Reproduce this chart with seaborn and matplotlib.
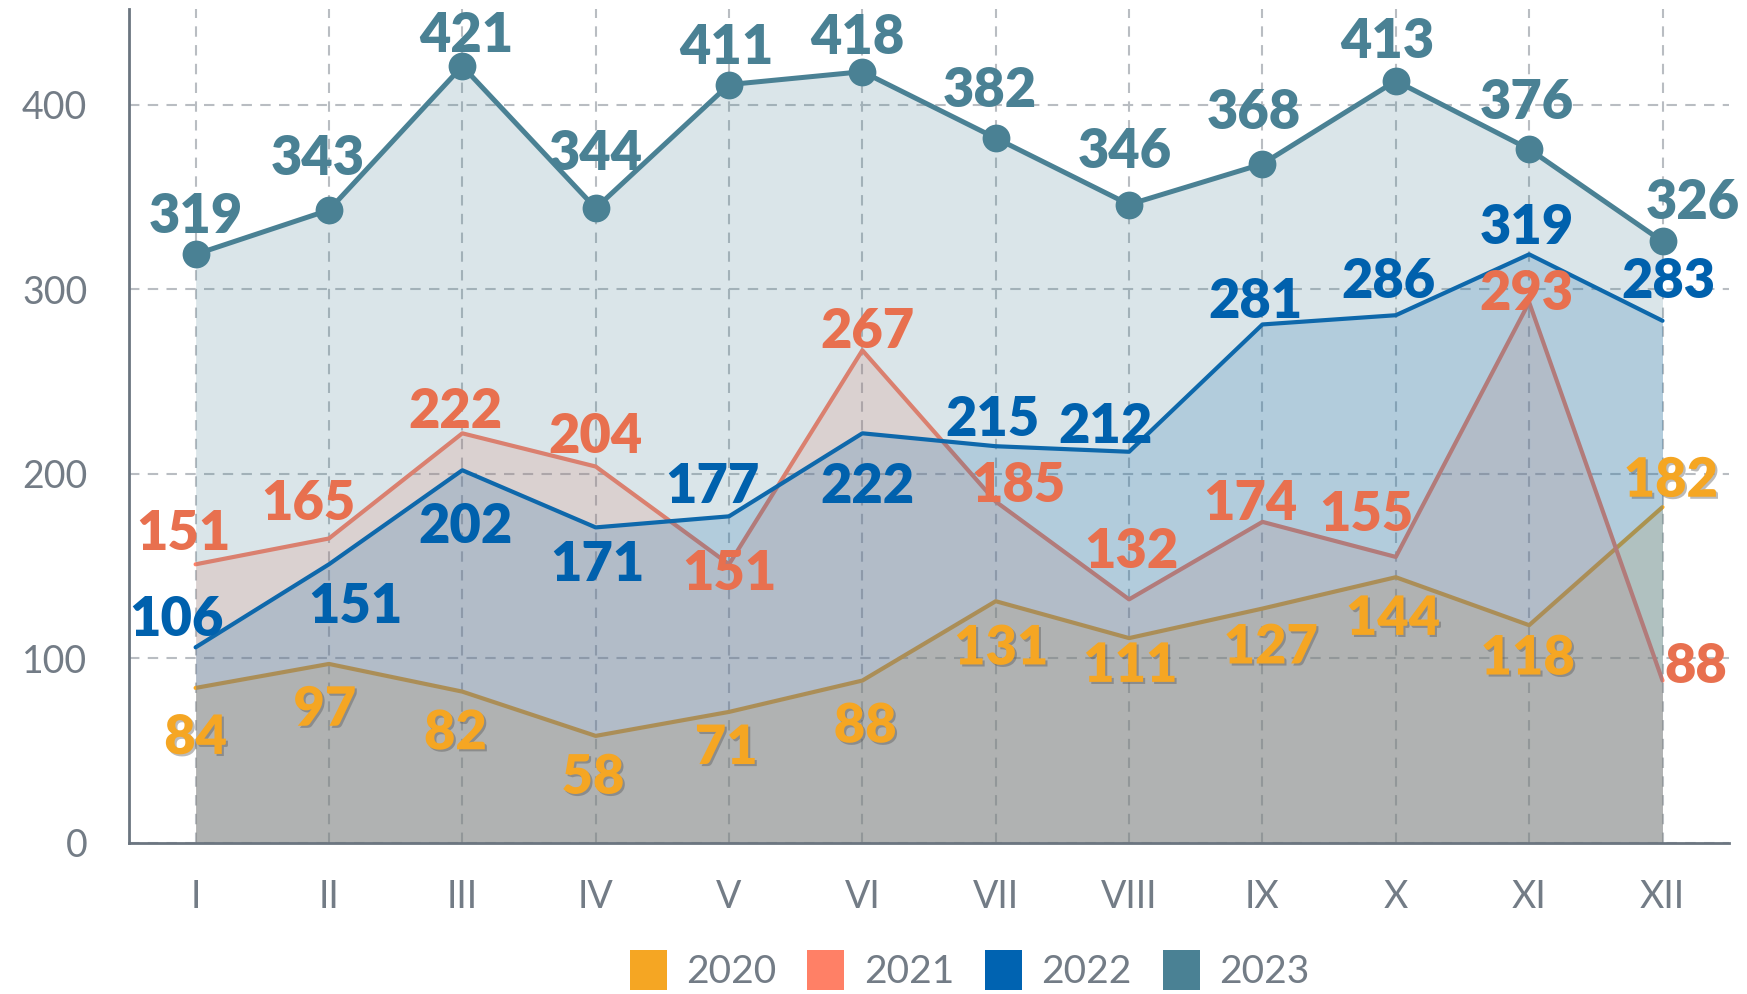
import matplotlib
matplotlib.use("Agg")
import matplotlib.pyplot as plt
import matplotlib.patheffects as pe
from matplotlib.patches import Patch
import pandas as pd
import seaborn as sns

# Data
months = ["I", "II", "III", "IV", "V", "VI", "VII", "VIII", "IX", "X", "XI", "XII"]
v2020 = [84, 97, 82, 58, 71, 88, 131, 111, 127, 144, 118, 182]
v2021 = [151, 165, 222, 204, 151, 267, 185, 132, 174, 155, 293, 88]
v2022 = [106, 151, 202, 171, 177, 222, 215, 212, 281, 286, 319, 283]
v2023 = [319, 343, 421, 344, 411, 418, 382, 346, 368, 413, 376, 326]
years = ["2020", "2021", "2022", "2023"]

colors = {"2020": "#f5a623", "2021": "#ff8066", "2022": "#0063b1", "2023": "#4a8194"}
label_colors = {"2020": "#f5a623", "2021": "#e8704f", "2022": "#0061ad", "2023": "#4a8194"}

# label offsets in points (dx, dy) - layout only
label_dx = {
    "2023": [0, -8, 3, 0, -2, -4, -4, -3, -6, -6, -2, 22],
    "2022": [-14, 19, 2, 1, -12, 4, -2, -17, -5, -5, -2, 4],
    "2021": [-9, -15, -5, 0, 0, 4, 16, 2, -9, -21, -2, 24],
    "2020": [0, -3, -5, -2, -2, 2, 4, 1, 6, -2, -1, 6],
}
label_dy = {
    "2023": [27, 37, 22, 39, 26, 24, 34, 38, 37, 28, 33, 28],
    "2022": [20, -31, -41, -27, 21, -39, 19, 18, 16, 24, 19, 28],
    "2021": [22, 25, 15, 21, -7, 13, 11, 34, 13, 30, 6, 10],
    "2020": [-36, -33, -30, -30, -26, -33, -34, -20, -28, -30, -24, 19],
}

df = pd.DataFrame({"month": months, "2020": v2020, "2021": v2021,
                   "2022": v2022, "2023": v2023})
df["x"] = range(len(months))
long = df.melt(id_vars=["month", "x"], value_vars=years, var_name="year", value_name="value")

sns.set_theme(style="white")
plt.rcParams["font.family"] = ["Lato", "DejaVu Sans"]

fig = plt.figure(figsize=(17.47, 9.94), dpi=100)
ax = fig.add_axes([0.0738, 0.152, 0.916, 0.839])

ax.set_axisbelow(True)
ax.grid(True, linestyle=(0, (5, 4)), color="#b9bdc2", linewidth=1.5)

# each series: fill + line, later series drawn over earlier ones
for i, yr in enumerate(years):
    sub = long[long["year"] == yr]
    ax.fill_between(sub["x"], 0, sub["value"], color=colors[yr], alpha=0.2,
                    linewidth=0, zorder=2 + i)
    sns.lineplot(data=sub, x="x", y="value", ax=ax, color=colors[yr],
                 linewidth=3.6 if yr == "2023" else 3.0, zorder=2.5 + i,
                 marker="o" if yr == "2023" else None,
                 markersize=20, markeredgewidth=0, legend=False)

# data labels
shadow = [pe.withSimplePatchShadow(offset=(1.5, -1.5), shadow_rgbFace="#555555", alpha=0.4)]
for yr in years:
    for j, v in enumerate(df[yr].tolist()):
        ax.annotate(str(v), (j, v), xytext=(label_dx[yr][j], label_dy[yr][j]),
                    textcoords="offset points", ha="center", va="center",
                    fontsize=39, fontweight="heavy", color=label_colors[yr],
                    zorder=20, annotation_clip=False,
                    path_effects=shadow if yr == "2020" else None)

ax.set_xlim(-0.5, 11.5)
ax.set_ylim(0, 452)
ax.set_xticks(range(len(months)))
ax.set_xticklabels(months)
ax.set_yticks([0, 100, 200, 300, 400])
ax.set_xlabel("")
ax.set_ylabel("")
ax.tick_params(axis="both", length=0, labelsize=27, labelcolor="#737c86")
ax.tick_params(axis="x", pad=26)
ax.tick_params(axis="y", pad=30)

for s in ["top", "right"]:
    ax.spines[s].set_visible(False)
for s in ["left", "bottom"]:
    ax.spines[s].set_color("#6b7580")
    ax.spines[s].set_linewidth(2)
    ax.spines[s].set_zorder(30)

handles = [Patch(facecolor=colors[y], edgecolor="none") for y in years]
leg = fig.legend(handles, years, loc="center", bbox_to_anchor=(0.555, 0.024), ncol=4,
                 frameon=False, fontsize=28, handlelength=0.95, handleheight=1.2,
                 handletextpad=0.5, columnspacing=0.8)
for t in leg.get_texts():
    t.set_color("#737c86")

fig.savefig("out.png", dpi=100)
plt.close(fig)
